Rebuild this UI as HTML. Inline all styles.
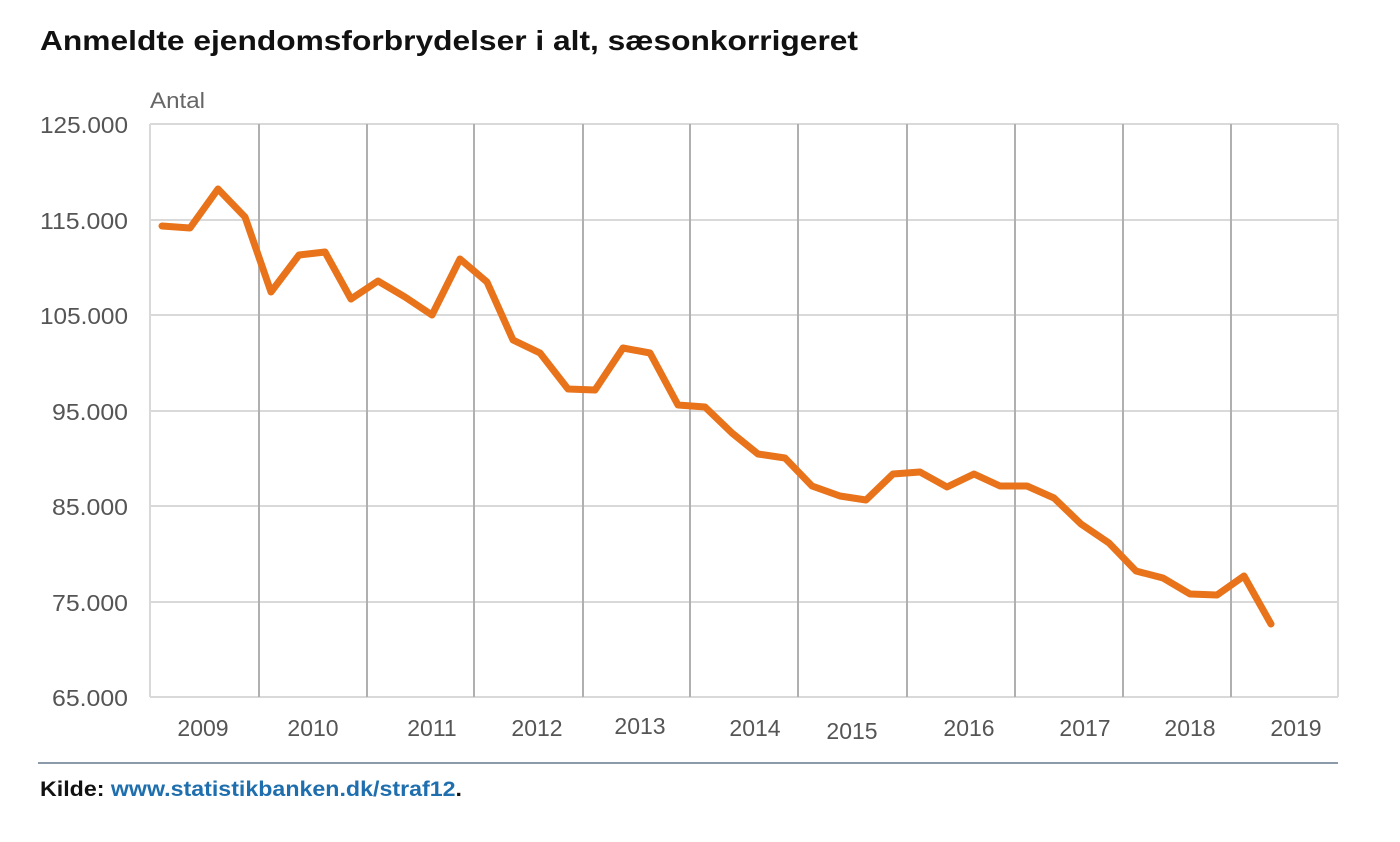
<!DOCTYPE html>
<html><head><meta charset="utf-8"><style>
body{margin:0;background:#fff;width:1400px;height:837px;overflow:hidden;font-family:"Liberation Sans",sans-serif}
</style></head><body>
<svg width="1400" height="837" xmlns="http://www.w3.org/2000/svg" font-family="Liberation Sans, sans-serif">
<text x="40" y="50" font-size="28" font-weight="bold" fill="#111" textLength="818" lengthAdjust="spacingAndGlyphs">Anmeldte ejendomsforbrydelser i alt, sæsonkorrigeret</text>
<text x="150" y="108" font-size="22" fill="#666" textLength="55" lengthAdjust="spacingAndGlyphs">Antal</text>
<g stroke="#d9d9d9" stroke-width="2">
<line x1="150" y1="124" x2="1338" y2="124"/>
<line x1="150" y1="220" x2="1338" y2="220"/>
<line x1="150" y1="315" x2="1338" y2="315"/>
<line x1="150" y1="411" x2="1338" y2="411"/>
<line x1="150" y1="506" x2="1338" y2="506"/>
<line x1="150" y1="602" x2="1338" y2="602"/>
<line x1="150" y1="697" x2="1338" y2="697"/>
<line x1="150" y1="124" x2="150" y2="697"/>
<line x1="1338" y1="124" x2="1338" y2="697"/>
</g>
<g stroke="#b0b0b0" stroke-width="2">
<line x1="259" y1="124" x2="259" y2="697"/><line x1="367" y1="124" x2="367" y2="697"/>
<line x1="474" y1="124" x2="474" y2="697"/><line x1="583" y1="124" x2="583" y2="697"/>
<line x1="690" y1="124" x2="690" y2="697"/><line x1="798" y1="124" x2="798" y2="697"/>
<line x1="907" y1="124" x2="907" y2="697"/><line x1="1015" y1="124" x2="1015" y2="697"/>
<line x1="1123" y1="124" x2="1123" y2="697"/><line x1="1231" y1="124" x2="1231" y2="697"/>
</g>
<g font-size="23" fill="#555" text-anchor="end">
<text x="128" y="133" textLength="88" lengthAdjust="spacingAndGlyphs">125.000</text>
<text x="128" y="229" textLength="88" lengthAdjust="spacingAndGlyphs">115.000</text>
<text x="128" y="324" textLength="88" lengthAdjust="spacingAndGlyphs">105.000</text>
<text x="128" y="420" textLength="76" lengthAdjust="spacingAndGlyphs">95.000</text>
<text x="128" y="515" textLength="76" lengthAdjust="spacingAndGlyphs">85.000</text>
<text x="128" y="611" textLength="76" lengthAdjust="spacingAndGlyphs">75.000</text>
<text x="128" y="706" textLength="76" lengthAdjust="spacingAndGlyphs">65.000</text>
</g>
<g font-size="23" fill="#555" text-anchor="middle">
<text x="203" y="736">2009</text><text x="313" y="736">2010</text><text x="432" y="736">2011</text>
<text x="537" y="736">2012</text><text x="640" y="734">2013</text><text x="755" y="736">2014</text>
<text x="852" y="739">2015</text><text x="969" y="736">2016</text><text x="1085" y="736">2017</text>
<text x="1190" y="736">2018</text><text x="1296" y="736">2019</text>
</g>
<polyline fill="none" stroke="#e8731b" stroke-width="7" stroke-linejoin="round" stroke-linecap="round"
points="162,226 190,228 218,189 245,217 271,292 299,255 325,252 351,299 378,281 405,297 432,315 460,259 487,282 513,340 540,353 568,389 595,390 623,348 650,353 678,405 705,407 732,433 758,454 785,458 812,486 840,496 866,500 893,474 920,472 947,487 974,474 1000,486 1027,486 1054,498 1081,524 1109,543 1136,571 1163,578 1190,594 1217,595 1244,576 1271,624"/>
<line x1="38" y1="763" x2="1338" y2="763" stroke="#8a9aa8" stroke-width="2"/>
<text x="40" y="796" font-size="21" font-weight="bold" fill="#111" textLength="422" lengthAdjust="spacingAndGlyphs">Kilde: <tspan fill="#1f6fae">www.statistikbanken.dk/straf12</tspan>.</text>
</svg>
</body></html>
